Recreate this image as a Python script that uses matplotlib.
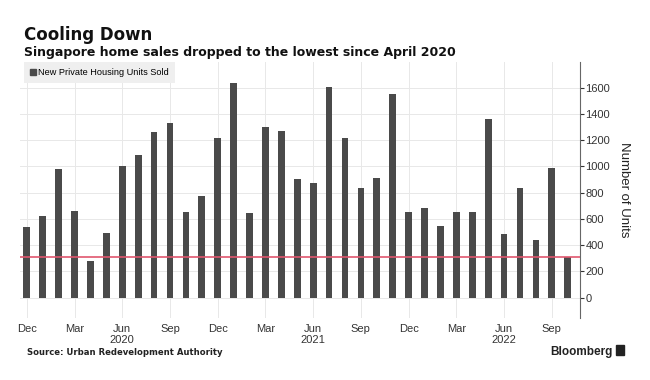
import matplotlib

matplotlib.use("Agg")

import matplotlib.pyplot as plt
from matplotlib.patches import Patch, Rectangle


plt.rcParams["font.family"] = ["Liberation Sans", "DejaVu Sans"]

# Monthly sales, Dec 2019 .. Oct 2022
units_sold = [
    540, 620, 980, 662, 280, 490, 1000, 1085, 1260, 1333, 654, 778,
    1217, 1638, 648, 1298, 1272, 900, 877, 1607, 1217, 839, 910, 1551,
    650, 685, 545, 655, 655, 1359, 488, 839, 437, 990, 310,
]

tick_months = [0, 3, 6, 9, 12, 15, 18, 21, 24, 27, 30, 33]

tick_labels = [
    "Dec", "Mar", "Jun\n2020", "Sep",
    "Dec", "Mar", "Jun\n2021", "Sep",
    "Dec", "Mar", "Jun\n2022", "Sep",
]

y_ticks = [0, 200, 400, 600, 800, 1000, 1200, 1400, 1600]

latest = units_sold[-1]

bar_color = "#4a4a4a"

fig = plt.figure(
    figsize=(6.5, 3.8),
    dpi=100
)

ax = fig.add_axes(
    [0.031, 0.163, 0.861, 0.674]
)

months = list(range(len(units_sold)))

ax.bar(
    months,
    units_sold,
    width=0.42,
    color=bar_color,
    zorder=3
)

ax.axhline(
    latest,
    color="#e0566e",
    linewidth=1.2,
    zorder=4
)

ax.set_xlim(-0.42, 34.76)

ax.set_ylim(-155, 1795)

ax.set_xticks(tick_months)

ax.set_xticklabels(
    tick_labels,
    fontsize=8,
    color="#333333"
)

ax.set_yticks(y_ticks)

ax.yaxis.tick_right()

ax.yaxis.set_label_position("right")

ax.tick_params(
    axis="y",
    labelsize=8,
    colors="#333333",
    length=3,
    pad=1,
    direction="out"
)

ax.tick_params(
    axis="x",
    length=0,
    pad=4
)

ax.set_ylabel(
    "Number of Units",
    rotation=-90,
    labelpad=14,
    fontsize=9.5,
    color="#222222"
)

ax.grid(
    True,
    color="#e8e8e8",
    linewidth=0.7,
    zorder=0
)

for side in ["top", "left", "bottom"]:
    ax.spines[side].set_visible(False)

ax.spines["right"].set_color("#666666")

ax.spines["right"].set_linewidth(0.8)

leg = ax.legend(
    handles=[Patch(color=bar_color, label="New Private Housing Units Sold")],
    loc="upper left",
    bbox_to_anchor=(0.007, 1.0),
    borderaxespad=0.0,
    fontsize=6.6,
    frameon=True,
    fancybox=False,
    handlelength=0.6,
    handleheight=0.6,
    handletextpad=0.3,
    borderpad=0.65
)

leg.get_frame().set_facecolor("#efefef")

leg.get_frame().set_edgecolor("none")

leg.get_frame().set_alpha(1)

fig.text(
    0.037, 0.895,
    "Cooling Down",
    fontsize=12,
    fontweight="bold",
    family=["DejaVu Sans"],
    color="#111111"
)

fig.text(
    0.037, 0.853,
    "Singapore home sales dropped to the lowest since April 2020",
    fontsize=9,
    fontweight="bold",
    family=["DejaVu Sans"],
    color="#111111"
)

fig.text(
    0.041, 0.066,
    "Source: Urban Redevelopment Authority",
    fontsize=6.1,
    fontweight="bold",
    family=["DejaVu Sans"],
    color="#222222"
)

fig.text(
    0.846, 0.066,
    "Bloomberg",
    fontsize=8.5,
    fontweight="bold",
    color="#222222"
)

fig.add_artist(
    Rectangle(
        (0.948, 0.066), 0.012, 0.026,
        transform=fig.transFigure,
        color="#222222"
    )
)

fig.savefig("out.png", dpi=100)

plt.close(fig)
